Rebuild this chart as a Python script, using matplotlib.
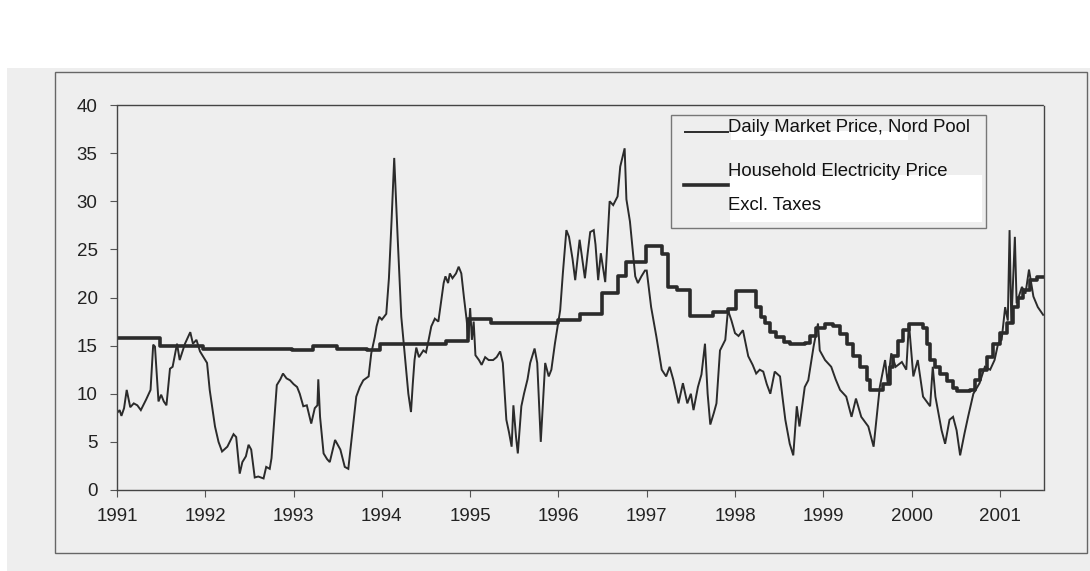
# coding=utf-8

import matplotlib.pyplot as plt
from matplotlib.lines import Line2D
from matplotlib.patches import Rectangle

plt.rcParams['font.family'] = ['Liberation Sans', 'DejaVu Sans']

# Nord Pool daily market price (decimal year, value)
spot_t = [
	1991.00, 1991.03, 1991.05, 1991.08, 1991.11, 1991.15, 1991.19, 1991.23, 1991.27, 1991.33,
	1991.38, 1991.41, 1991.43, 1991.47, 1991.50, 1991.53, 1991.56, 1991.60, 1991.63, 1991.68,
	1991.71, 1991.77, 1991.80, 1991.83, 1991.86, 1991.90, 1991.94, 1992.02, 1992.05, 1992.11,
	1992.15, 1992.19, 1992.25, 1992.32, 1992.35, 1992.39, 1992.42, 1992.46, 1992.49, 1992.52,
	1992.56, 1992.60, 1992.66, 1992.69, 1992.73, 1992.75, 1992.81, 1992.85, 1992.88, 1992.92,
	1992.96, 1993.00, 1993.04, 1993.07, 1993.11, 1993.15, 1993.20, 1993.24, 1993.27, 1993.28,
	1993.30, 1993.34, 1993.38, 1993.41, 1993.47, 1993.53, 1993.58, 1993.62, 1993.66, 1993.71,
	1993.75, 1993.79, 1993.85, 1993.88, 1993.92, 1993.94, 1993.97, 1994.00, 1994.05, 1994.08,
	1994.11, 1994.14, 1994.18, 1994.22, 1994.27, 1994.30, 1994.33, 1994.35, 1994.37, 1994.39,
	1994.42, 1994.47, 1994.50, 1994.53, 1994.56, 1994.60, 1994.64, 1994.67, 1994.70, 1994.72,
	1994.75, 1994.77, 1994.80, 1994.84, 1994.87, 1994.90, 1994.93, 1994.96, 1994.98, 1995.00,
	1995.02, 1995.04, 1995.06, 1995.10, 1995.13, 1995.17, 1995.21, 1995.26, 1995.30, 1995.34,
	1995.37, 1995.41, 1995.44, 1995.47, 1995.49, 1995.52, 1995.54, 1995.58, 1995.61, 1995.65,
	1995.68, 1995.73, 1995.76, 1995.80, 1995.83, 1995.85, 1995.89, 1995.92, 1995.96, 1996.02,
	1996.05, 1996.09, 1996.12, 1996.16, 1996.19, 1996.24, 1996.30, 1996.33, 1996.36, 1996.40,
	1996.42, 1996.45, 1996.48, 1996.53, 1996.58, 1996.62, 1996.67, 1996.70, 1996.75, 1996.77,
	1996.81, 1996.87, 1996.90, 1996.94, 1996.98, 1997.00, 1997.05, 1997.11, 1997.17, 1997.22,
	1997.26, 1997.30, 1997.36, 1997.41, 1997.46, 1997.50, 1997.53, 1997.58, 1997.62, 1997.66,
	1997.69, 1997.72, 1997.76, 1997.79, 1997.83, 1997.89, 1997.92, 1997.96, 1998.00, 1998.04,
	1998.09, 1998.15, 1998.20, 1998.24, 1998.28, 1998.32, 1998.36, 1998.40, 1998.45, 1998.51,
	1998.54, 1998.57, 1998.62, 1998.66, 1998.70, 1998.73, 1998.79, 1998.83, 1998.89, 1998.94,
	1998.96, 1999.02, 1999.09, 1999.14, 1999.19, 1999.26, 1999.32, 1999.37, 1999.43, 1999.51,
	1999.57, 1999.64, 1999.70, 1999.73, 1999.77, 1999.82, 1999.89, 1999.94, 1999.97, 2000.02,
	2000.07, 2000.13, 2000.21, 2000.24, 2000.27, 2000.34, 2000.38, 2000.43, 2000.47, 2000.51,
	2000.55, 2000.60, 2000.64, 2000.70, 2000.77, 2000.83, 2000.89, 2000.94, 2000.98, 2001.02,
	2001.06, 2001.09, 2001.11, 2001.13, 2001.17, 2001.19, 2001.25, 2001.29, 2001.33, 2001.38,
	2001.43, 2001.49,
]
spot_v = [
	8.0, 8.3, 7.7, 8.5, 10.4, 8.6, 9.0, 8.8, 8.3, 9.4,
	10.4, 15.1, 14.9, 9.2, 9.9, 9.2, 8.8, 12.6, 12.8, 15.2,
	13.5, 15.2, 15.8, 16.4, 15.2, 15.6, 14.4, 13.2, 10.4, 6.6,
	5.0, 4.0, 4.5, 5.8, 5.5, 1.7, 2.9, 3.5, 4.7, 4.2,
	1.3, 1.4, 1.2, 2.4, 2.2, 3.3, 10.9, 11.5, 12.1, 11.6,
	11.4, 11.0, 10.7, 10.0, 8.7, 8.8, 6.9, 8.5, 8.8, 11.5,
	7.6, 3.8, 3.2, 2.9, 5.2, 4.2, 2.4, 2.2, 5.5, 9.7,
	10.7, 11.4, 11.8, 14.2, 15.9, 17.0, 18.0, 17.7, 18.3, 22.0,
	28.0, 34.5, 26.0, 18.0, 13.0, 10.0, 8.1, 11.0, 13.5, 14.8,
	13.8, 14.5, 14.3, 15.6, 17.0, 17.8, 17.5, 19.5, 21.5, 22.2,
	21.5, 22.5, 22.0, 22.5, 23.2, 22.5, 20.0, 17.7, 15.8, 18.9,
	15.6, 17.5, 14.0, 13.5, 13.0, 13.8, 13.5, 13.5, 13.8, 14.4,
	13.2, 7.3, 6.0, 4.5, 8.8, 5.5, 3.8, 8.7, 10.0, 11.5,
	13.2, 14.7, 13.2, 5.0, 10.0, 13.2, 11.8, 12.5, 15.2, 18.7,
	22.5, 27.0, 26.3, 24.0, 21.8, 26.0, 22.0, 24.5, 26.8, 27.0,
	25.5, 21.8, 24.6, 21.6, 30.0, 29.6, 30.5, 33.6, 35.5, 30.2,
	27.9, 22.2, 21.5, 22.2, 22.8, 22.8, 19.0, 15.9, 12.5, 11.8,
	12.8, 11.5, 9.0, 11.1, 9.0, 10.0, 8.3, 10.7, 12.0, 15.2,
	10.0, 6.8, 8.0, 9.0, 14.5, 15.6, 18.7, 17.6, 16.3, 16.0,
	16.6, 13.9, 13.0, 12.1, 12.5, 12.3, 11.0, 10.0, 12.3, 11.8,
	9.5, 7.3, 4.8, 3.6, 8.7, 6.6, 10.7, 11.4, 14.9, 17.3,
	14.5, 13.5, 12.8, 11.5, 10.4, 9.7, 7.6, 9.5, 7.6, 6.6,
	4.5, 10.7, 13.5, 11.1, 14.2, 12.8, 13.3, 12.5, 17.3, 11.8,
	13.5, 9.7, 8.7, 12.8, 9.7, 6.2, 4.8, 7.3, 7.6, 6.2,
	3.6, 5.9, 7.6, 10.0, 11.1, 12.8, 12.5, 13.5, 15.2, 15.6,
	19.0, 17.6, 27.0, 17.3, 26.3, 19.4, 21.1, 20.4, 22.9, 20.1,
	19.0, 18.2,
]

# household electricity price excl. taxes, change points (steps)
house_t = [
	1991.00, 1991.49, 1991.97, 1992.98, 1993.22, 1993.49, 1993.83, 1993.98, 1994.73, 1994.98,
	1995.24, 1995.99, 1996.24, 1996.49, 1996.67, 1996.77, 1996.99, 1997.17, 1997.24, 1997.34,
	1997.49, 1997.75, 1997.92, 1998.01, 1998.24, 1998.29, 1998.34, 1998.40, 1998.47, 1998.55,
	1998.62, 1998.79, 1998.85, 1998.92, 1999.02, 1999.11, 1999.19, 1999.27, 1999.34, 1999.42,
	1999.49, 1999.53, 1999.68, 1999.75, 1999.79, 1999.85, 1999.90, 1999.97, 2000.05, 2000.13,
	2000.17, 2000.21, 2000.27, 2000.32, 2000.40, 2000.47, 2000.51, 2000.66, 2000.72, 2000.77,
	2000.85, 2000.92, 2001.00, 2001.08, 2001.15, 2001.21, 2001.26, 2001.34, 2001.42, 2001.50,
]
house_v = [
	15.8, 15.0, 14.7, 14.5, 15.0, 14.7, 14.5, 15.2, 15.5, 17.8,
	17.3, 17.7, 18.3, 20.5, 22.2, 23.7, 25.4, 24.5, 21.1, 20.8,
	18.1, 18.5, 18.8, 20.7, 19.0, 18.0, 17.3, 16.4, 15.9, 15.4,
	15.2, 15.3, 16.0, 16.8, 17.2, 17.0, 16.2, 15.2, 13.9, 12.8,
	11.4, 10.4, 11.0, 12.8, 13.9, 15.5, 16.6, 17.2, 17.2, 16.8,
	15.2, 13.5, 12.8, 12.1, 11.3, 10.6, 10.3, 10.4, 11.4, 12.5,
	13.8, 15.2, 16.3, 17.3, 19.0, 20.0, 20.8, 21.8, 22.1, 22.1,
]

years = list(range(1991, 2002))
y_ticks = [0, 5, 10, 15, 20, 25, 30, 35, 40]

W, H = 1090, 571
bg = '#eeeeee'
ink = '#2b2b2b'


def fx(px):
	return px / W


def fy(py):
	return 1 - py / H


fig = plt.figure(figsize=(W / 100, H / 100), dpi=100, facecolor=bg)

# scanned page look: white strip on top, thin one on the left
fig.patches.append(Rectangle((0, fy(68)), 1, 1 - fy(68), transform=fig.transFigure,
	facecolor='white', edgecolor='none', zorder=-5))
fig.patches.append(Rectangle((0, 0), fx(7), 1, transform=fig.transFigure,
	facecolor='white', edgecolor='none', zorder=-5))
# outer frame
fig.patches.append(Rectangle((fx(55), fy(553)), fx(1087) - fx(55), fy(72) - fy(553),
	transform=fig.transFigure, facecolor='none', edgecolor='#666666', lw=1.0))

ax = fig.add_axes([fx(117), fy(490), fx(1044) - fx(117), fy(105) - fy(490)])
ax.set_facecolor(bg)

ax.plot(spot_t, spot_v, color=ink, lw=1.4, solid_joinstyle='miter')
ax.plot(house_t, house_v, color=ink, lw=2.6, drawstyle='steps-post')

ax.set_xlim(1991, 2001.5)
ax.set_ylim(0, 40)
ax.set_xticks(years)
ax.set_xticklabels([str(y) for y in years])
ax.set_yticks(y_ticks)
ax.tick_params(axis='both', direction='out', length=5, width=0.8, color='#555555',
	labelsize=13.5, labelcolor='#222222')
ax.tick_params(axis='x', pad=8)
ax.tick_params(axis='y', pad=9)
for s in ax.spines.values():
	s.set_linestyle((0, (1.5, 1)))
	s.set_linewidth(1.0)
	s.set_color('#444444')

# legend drawn by hand to copy the pasted white text boxes
fig.patches.append(Rectangle((fx(671), fy(228)), fx(986) - fx(671), fy(115) - fy(228),
	transform=fig.transFigure, facecolor=bg, edgecolor='#777777', lw=1.0, zorder=5))
fig.patches.append(Rectangle((fx(731), fy(140)), fx(908) - fx(731), fy(131) - fy(140),
	transform=fig.transFigure, facecolor='white', edgecolor='none', zorder=6))
fig.patches.append(Rectangle((fx(730), fy(222)), fx(982) - fx(730), fy(175) - fy(222),
	transform=fig.transFigure, facecolor='white', edgecolor='none', zorder=6))
fig.lines.append(Line2D([fx(685), fx(728)], [fy(132), fy(132)], transform=fig.transFigure,
	color=ink, lw=1.4, zorder=7))
fig.lines.append(Line2D([fx(684), fx(728)], [fy(185), fy(185)], transform=fig.transFigure,
	color=ink, lw=2.6, zorder=7))
fig.text(fx(728), fy(127), 'Daily Market Price, Nord Pool', fontsize=13.3, color='#111111',
	va='center', ha='left', zorder=8)
fig.text(fx(728), fy(172), 'Household Electricity Price', fontsize=13.3, color='#111111',
	va='center', ha='left', zorder=8)
fig.text(fx(728), fy(205), 'Excl. Taxes', fontsize=13.3, color='#111111',
	va='center', ha='left', zorder=8)

fig.savefig('out.png', dpi=100, facecolor=bg)
